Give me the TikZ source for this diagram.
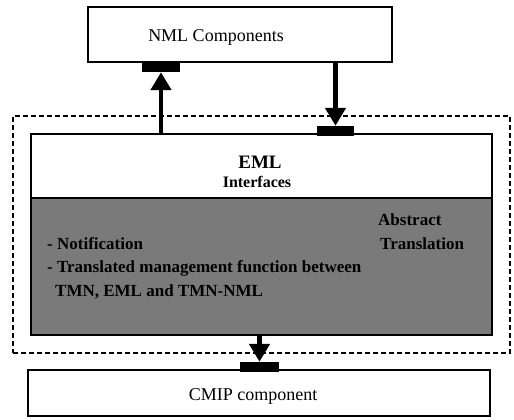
\documentclass[tikz,border=0pt]{standalone}
\usepackage{fontspec}
\setmainfont{Liberation Serif}
\usetikzlibrary{arrows.meta}

\tikzset{
  box/.style={draw=black, line width=1.2pt, fill=white, inner sep=0pt},
  shadebox/.style={fill=black!52, draw=black, line width=1.2pt, inner sep=0pt},
  plug/.style={fill=black, draw=none, inner sep=0pt},
  bigarrow/.style={line width=4.6pt, -{Triangle[width=20pt,length=18pt]}},
  group/.style={draw=black, line width=1.4pt, dash pattern=on 5pt off 3pt, inner sep=0pt},
  label/.style={inner sep=0pt, font=\fontsize{18}{20}\selectfont},
  inner/.style={inner sep=0pt, anchor=west, font=\fontsize{17}{19}\selectfont\bfseries}
}

\begin{document}
\begin{tikzpicture}[x=1pt, y=-1pt]
  \useasboundingbox (0,0) rectangle (514,420);

  % dashed grouping of the EML layer
  \node[group, minimum width=497pt, minimum height=237pt] (grp) at (261.5,234.5) {};

  % NML box
  \node[box, minimum width=304pt, minimum height=55pt] (nml) at (240,34.5) {};
  \node[label] (nmltext) at (216,37) {NML Components};

  % EML box with its shaded lower part
  \node[box, minimum width=461pt, minimum height=201pt] (eml) at (261.5,234.5) {};
  \node[shadebox, minimum width=461pt, minimum height=137pt] (emlshade) at (261.5,266.5) {};
  \node[inner sep=0pt, font=\fontsize{19}{21}\selectfont\bfseries] (emltitle) at (260,162) {EML};
  \node[inner sep=0pt, font=\fontsize{16}{18}\selectfont\bfseries] (emlsub) at (257,182) {Interfaces};

  \node[inner] (abs) at (378,220) {Abstract};
  \node[inner] (trans) at (380,244) {Translation};
  \node[inner] (notif) at (47,244) {- Notification};
  \node[inner] (tmf) at (47,268) {- Translated management function between};
  \node[inner] (tmn) at (55,292) {TMN, EML and TMN-NML};

  % CMIP box
  \node[box, minimum width=462pt, minimum height=46pt] (cmip) at (259,393) {};
  \node[label] (cmiptext) at (253,396) {CMIP component};

  % black connection plugs
  \node[plug, minimum width=38pt, minimum height=10pt] (p1) at (161,67) {};
  \node[plug, minimum width=37pt, minimum height=10pt] (p2) at (335.5,131) {};
  \node[plug, minimum width=39pt, minimum height=10pt] (p3) at (259.5,367) {};

  % connectors
  \draw[bigarrow] (p1.south |- eml.north) -- (p1.south);
  \draw[bigarrow] (p2.north |- nml.south) -- (p2.north);
  \draw[bigarrow] (p3.north |- eml.south) -- (p3.north);
\end{tikzpicture}
\end{document}
